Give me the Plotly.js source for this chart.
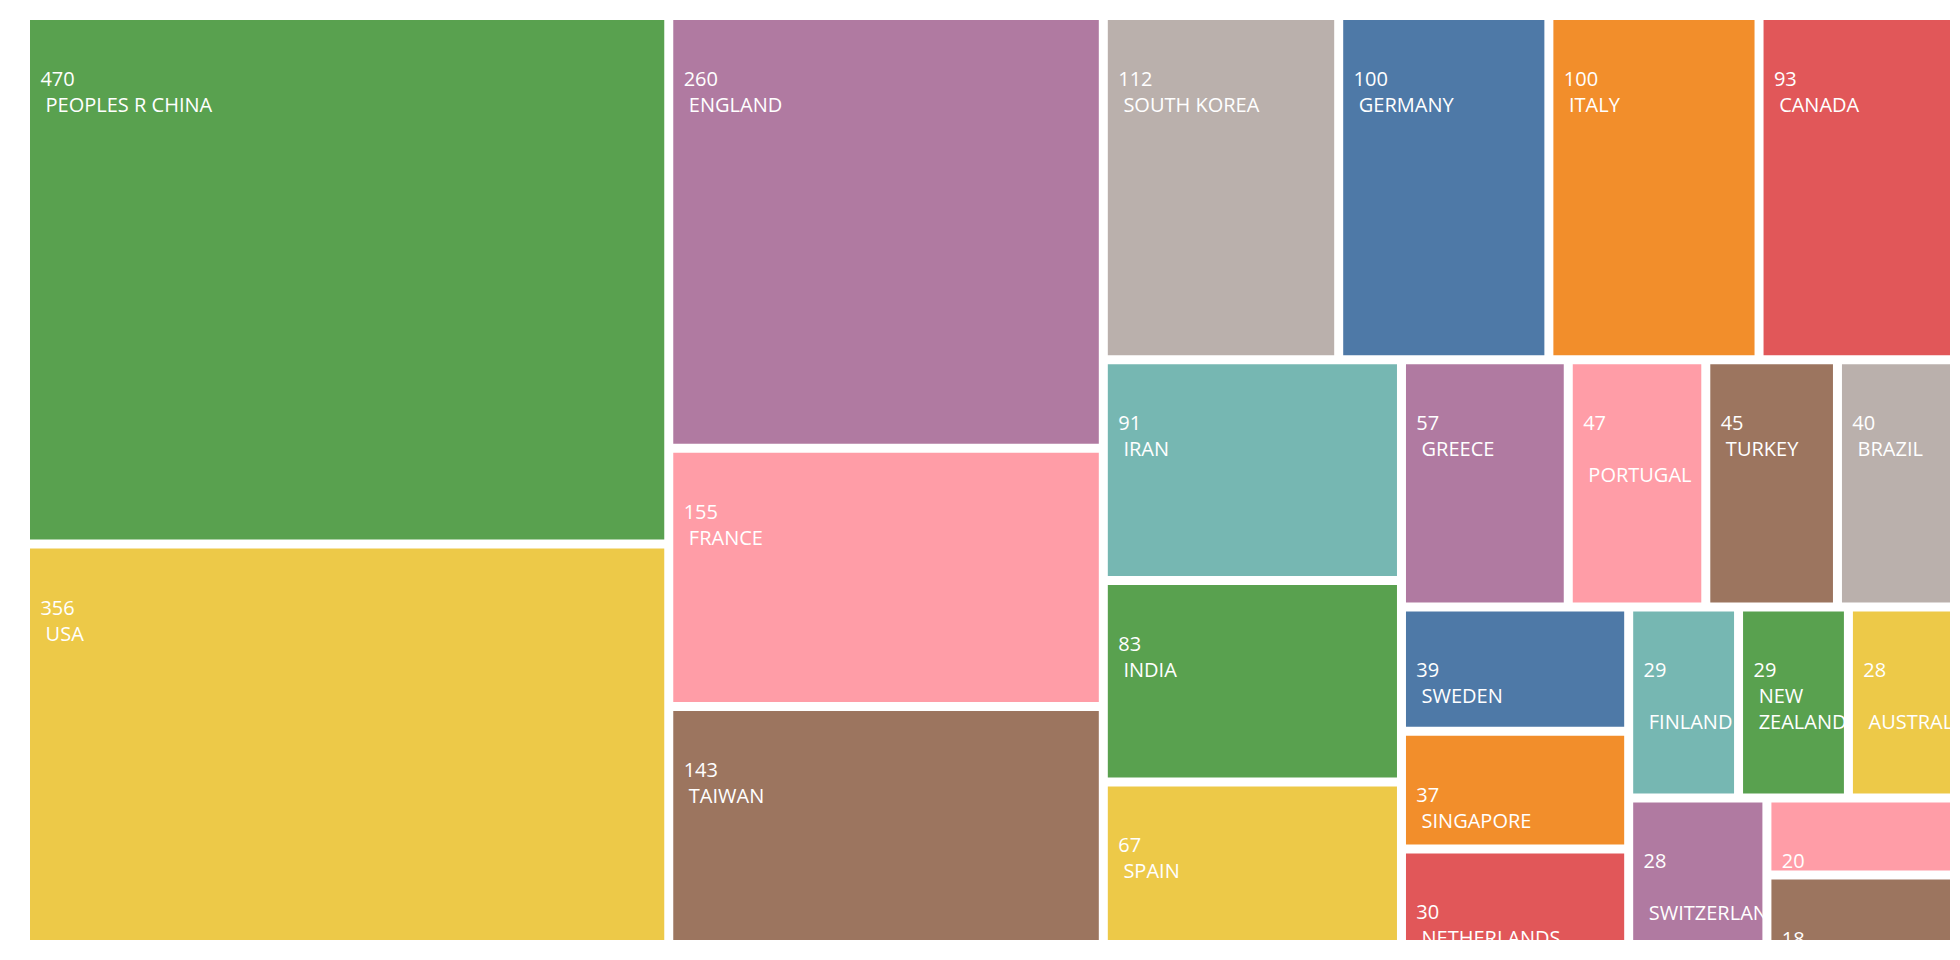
<!DOCTYPE html>
<html>
<head>
<meta charset="utf-8">
<script src="https://cdn.plot.ly/plotly-3.0.1.min.js"></script>
<style>html,body{margin:0;padding:0;background:#fff;}#chart{width:1960px;height:960px;}</style>
</head>
<body>
<div id="chart"></div>
<script>
var countries = ["PEOPLES R CHINA","USA","ENGLAND","FRANCE","TAIWAN","SOUTH KOREA","GERMANY","ITALY","CANADA","IRAN","INDIA","SPAIN","GREECE","PORTUGAL","TURKEY","BRAZIL","SWEDEN","SINGAPORE","NETHERLANDS","FINLAND","NEW ZEALAND","AUSTRALIA","SWITZERLAND","JAPAN","BELGIUM"];
var counts = [470,356,260,155,143,112,100,100,93,91,83,67,57,47,45,40,39,37,30,29,29,28,28,20,18];
var palette = ["#59a14f","#edc948","#b07aa1","#ff9da7","#9c755f","#bab0ac","#4e79a7","#f28e2b","#e15759","#76b7b2"];

var colors = countries.map(function(c,i){return palette[i % palette.length];});
var topSpacer = '<span style="font-size:37px">\u00a0</span>';
var spacer = '\u00a0';
var lowered = {"PORTUGAL":1,"FINLAND":1,"AUSTRALIA":1,"SWITZERLAND":1};
var labelsShown = countries.map(function(c){
  var s = c.replace("NEW ZEALAND","NEW<br>\u00a0\u00a0\u00a0ZEALAND");
  return lowered[c] ? spacer + "<br>\u00a0\u00a0\u00a0" + s : s;
});
var templates = countries.map(function(c,i){
  return counts[i] <= 20 ? topSpacer + "<br>\u00a0\u00a0%{value}" : topSpacer + "<br>\u00a0\u00a0%{value}<br>\u00a0\u00a0\u00a0%{customdata}";
});

var trace = {
  type: "treemap",
  labels: countries,
  parents: countries.map(function(){return "";}),
  values: counts,
  customdata: labelsShown,
  texttemplate: templates,
  textposition: "top left",
  sort: true,
  tiling: {packing: "squarify", squarifyratio: 1.618},
  marker: {colors: colors, line: {width: 6, color: "#ffffff"}, pad: {t: 0, l: 0, r: 0, b: 0}},
  textfont: {family: "Open Sans, sans-serif", size: 20, color: "#ffffff"},
  pathbar: {visible: false},
  hovertemplate: "%{label}: %{value}<extra></extra>"
};

var layout = {
  width: 1960, height: 960,
  margin: {l: 27, r: 7, t: 17, b: 17},
  paper_bgcolor: "#ffffff",
  uniformtext: {mode: "show", minsize: 20},
  showlegend: false
};

Plotly.newPlot("chart", [trace], layout, {displayModeBar: false, staticPlot: true});
</script>
</body>
</html>
